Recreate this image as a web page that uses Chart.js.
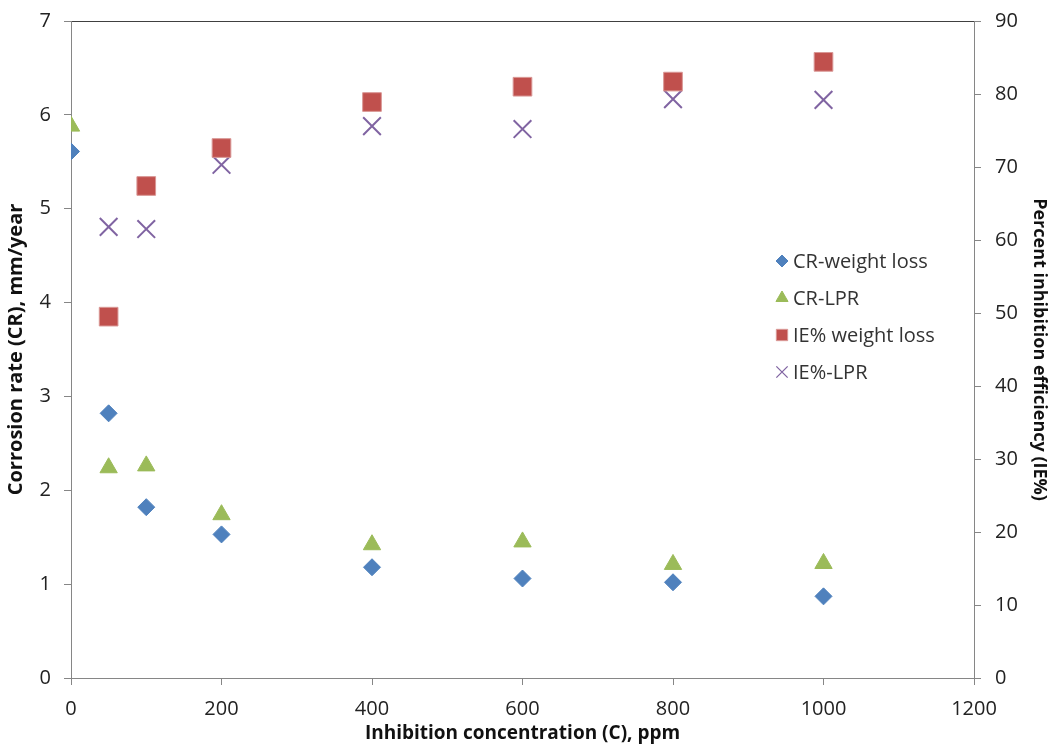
<!DOCTYPE html>
<html>
<head>
<meta charset="utf-8">
<script src="https://cdn.jsdelivr.net/npm/chart.js@4/dist/chart.umd.min.js"></script>
<style>
  html, body { margin: 0; padding: 0; background: #fff; }
  #wrap { width: 1050px; height: 745px; }
</style>
</head>
<body>
<div id="wrap"><canvas id="chart" width="1050" height="745"></canvas></div>
<script>
// concentrations (ppm)
var CONC = [0, 50, 100, 200, 400, 600, 800, 1000];
var CONC_IE = [50, 100, 200, 400, 600, 800, 1000];

// corrosion rate, mm/year (left axis)
var CR_WEIGHT_LOSS = [5.61, 2.82, 1.82, 1.53, 1.18, 1.06, 1.02, 0.87];
var CR_LPR = [5.88, 2.24, 2.26, 1.74, 1.42, 1.45, 1.21, 1.22];

// inhibition efficiency, % (right axis)
var IE_WEIGHT_LOSS = [49.5, 67.4, 72.6, 78.9, 81.0, 81.7, 84.4];
var IE_LPR = [61.8, 61.5, 70.3, 75.6, 75.2, 79.3, 79.2];

var FONT = "'Open Sans', Lato, sans-serif";
var AXIS_GRAY = '#868686';

function pts(xs, ys){
  var out = [];
  for (var i = 0; i < xs.length; i++) out.push({x: xs[i], y: ys[i]});
  return out;
}

function plain(v){ return String(v); }

// keep the tick labels from pushing the plot area down
function fixVertical(width){
  return function(s){
    s.width = width;
    s.paddingTop = 10;
    s.paddingBottom = 10;
  };
}

// legend drawn inside the plot, right side
var insideLegend = {
  id: 'insideLegend',
  afterDraw: function(chart){
    var ctx = chart.ctx;
    var x0 = 782, y0 = 261, gap = 37;
    var sizes = [6, 7, 8, 8];
    ctx.save();
    ctx.font = '20px ' + FONT;
    ctx.textBaseline = 'middle';
    ctx.textAlign = 'left';
    chart.data.datasets.forEach(function(ds, i){
      var y = y0 + i * gap;
      ctx.fillStyle = ds.backgroundColor;
      ctx.strokeStyle = ds.borderColor;
      ctx.lineWidth = ds.pointStyle === 'crossRot' ? 1.3 : 1;
      Chart.helpers.drawPoint(ctx, {pointStyle: ds.pointStyle, radius: sizes[i], rotation: 0, borderWidth: ctx.lineWidth}, x0, y);
      ctx.fillStyle = '#333';
      ctx.fillText(ds.label, x0 + 11, y + 1);
    });
    ctx.restore();
  }
};

new Chart(document.getElementById('chart'), {
  type: 'scatter',
  data: {
    datasets: [
      {
        label: 'CR-weight loss',
        data: pts(CONC, CR_WEIGHT_LOSS),
        yAxisID: 'y',
        pointStyle: 'rectRot',
        pointRadius: 8.5,
        backgroundColor: '#4F81BD',
        borderColor: '#4F81BD',
        borderWidth: 1
      },
      {
        label: 'CR-LPR',
        data: pts(CONC, CR_LPR),
        yAxisID: 'y',
        pointStyle: 'triangle',
        pointRadius: 10,
        backgroundColor: '#9BBB59',
        borderColor: '#9BBB59',
        borderWidth: 1
      },
      {
        label: 'IE% weight loss',
        data: pts(CONC_IE, IE_WEIGHT_LOSS),
        yAxisID: 'y1',
        pointStyle: 'rect',
        pointRadius: 13.2,
        backgroundColor: '#C0504D',
        borderColor: '#D99795',
        borderWidth: 1
      },
      {
        label: 'IE%-LPR',
        data: pts(CONC_IE, IE_LPR),
        yAxisID: 'y1',
        pointStyle: 'crossRot',
        pointRadius: 12.5,
        backgroundColor: '#8064A2',
        borderColor: '#8064A2',
        borderWidth: 2
      }
    ]
  },
  options: {
    responsive: false,
    animation: false,
    layout: { padding: 0 },
    plugins: {
      legend: { display: false },
      tooltip: { enabled: false }
    },
    scales: {
      x: {
        type: 'linear',
        position: 'bottom',
        min: 0, max: 1200,
        ticks: { stepSize: 200, color: '#222', padding: 12, maxRotation: 0, callback: plain,
                 font: { family: FONT, size: 20 } },
        grid: { drawOnChartArea: false, drawTicks: true, tickLength: 7, color: AXIS_GRAY },
        border: { color: AXIS_GRAY },
        title: { display: true, text: 'Inhibition concentration (C), ppm', color: '#111', padding: 0,
                 font: { family: FONT, size: 19, weight: 'bold' } },
        afterFit: function(s){ s.height = 67; }
      },
      x2: {
        type: 'linear',
        position: 'top',
        min: 0, max: 1200,
        ticks: { display: false },
        grid: { display: false },
        border: { color: '#404040' },
        afterFit: function(s){ s.height = 21; }
      },
      y: {
        type: 'linear',
        position: 'left',
        min: 0, max: 7,
        ticks: { stepSize: 1, color: '#222', padding: 13, callback: plain, font: { family: FONT, size: 20 } },
        grid: { drawOnChartArea: false, drawTicks: true, tickLength: 7, color: AXIS_GRAY },
        border: { color: AXIS_GRAY },
        title: { display: true, text: 'Corrosion rate (CR), mm/year', color: '#111', padding: { top: 4, bottom: 0 },
                 font: { family: FONT, size: 20, weight: 'bold' } },
        afterFit: fixVertical(71)
      },
      y1: {
        type: 'linear',
        position: 'right',
        min: 0, max: 90,
        ticks: { stepSize: 10, color: '#222', padding: 14, callback: plain, font: { family: FONT, size: 20 } },
        grid: { drawOnChartArea: false, drawTicks: true, tickLength: 7, color: AXIS_GRAY },
        border: { color: AXIS_GRAY },
        title: { display: true, text: 'Percent inhibition efficiency (IE%)', color: '#111', padding: { top: 0, bottom: 0 },
                 font: { family: FONT, size: 18, weight: 'bold' } },
        afterFit: fixVertical(76)
      }
    }
  },
  plugins: [insideLegend]
});
</script>
</body>
</html>
